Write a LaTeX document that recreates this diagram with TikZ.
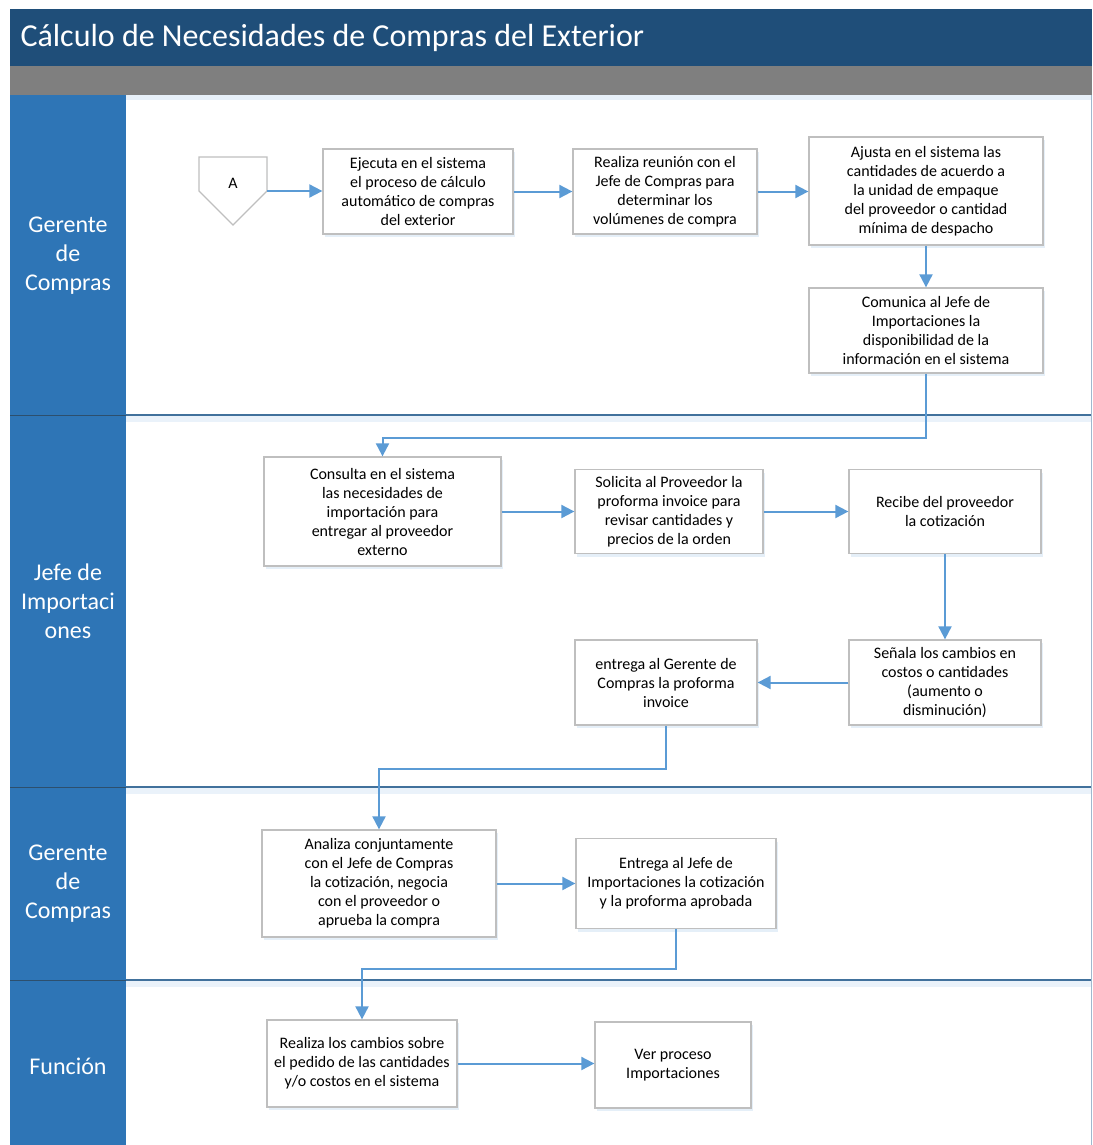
\documentclass[tikz,border=0pt]{standalone}
\usepackage{fontspec}
\setmainfont{Carlito}
\usetikzlibrary{arrows.meta,shadows,calc}
\definecolor{titleblue}{HTML}{1F4E79}
\definecolor{lanehead}{HTML}{2E75B6}
\definecolor{laneline}{HTML}{41719C}
\definecolor{arrowblue}{HTML}{5B9BD5}
\definecolor{boxborder}{HTML}{BFBFBF}
\definecolor{greybar}{HTML}{7F7F7F}
\begin{document}
\begin{tikzpicture}[x=1pt,y=-1pt,
 box/.style={draw=boxborder, line width=1.3pt, fill=white, align=center,
   font=\fontsize{16}{19}\selectfont, inner sep=2pt,
   drop shadow={shadow xshift=2pt, shadow yshift=-3pt, fill=arrowblue!45, opacity=0.35}},
 flow/.style={draw=arrowblue, line width=2pt, -{Triangle[length=13pt,width=13pt]}},
 lanelabel/.style={text=white, align=center, font=\fontsize{24}{29}\selectfont},
 laneedge/.style={draw=laneline, line width=2pt},
]
\useasboundingbox (0,0) rectangle (1092,1145);
\fill[white] (0,0) rectangle (1092,1145);
% title bar
\fill[titleblue] (10,9) rectangle (1092,66);
\node[anchor=west, text=white, font=\fontsize{32}{36}\selectfont] (title) at (17,38) {Cálculo de Necesidades de Compras del Exterior};
\fill[greybar] (10,66) rectangle (1092,95);
\fill[arrowblue!15] (126,95) rectangle (1092,100);
% lane header column
\fill[lanehead] (10,95) rectangle (126,1145);
\draw[laneline!70!black, line width=0.8pt] (10,415) -- (126,415) (10,787) -- (126,787) (10,980) -- (126,980);
% lane separators
\foreach \yy in {415,787,980} {
  \fill[arrowblue!13] (126,\yy+1) rectangle (1092,\yy+7);
  \draw[laneedge] (126,\yy) -- (1092,\yy);
}
\draw[laneline!50, line width=0.8pt] (1091,95) -- (1091,1145);
% lane labels
\node[lanelabel] (l1) at (68,256) {Gerente\\de\\Compras};
\node[lanelabel] (l2) at (68,601) {Jefe de\\Importaci\\ones};
\node[lanelabel] (l3) at (68,884) {Gerente\\de\\Compras};
\node[lanelabel] (l4) at (68,1066) {Función};
% off-page connector A
\coordinate (ac) at (233,191);
\fill[arrowblue!45, opacity=0.35, xshift=2pt, yshift=-3pt] ($(ac)+(-34,-34)$) -- ($(ac)+(34,-34)$) -- ($(ac)+(34,0)$) -- ($(ac)+(0,34)$) -- ($(ac)+(-34,0)$) -- cycle;
\draw[draw=boxborder, line width=1.3pt, fill=white] ($(ac)+(-34,-34)$) -- ($(ac)+(34,-34)$) -- ($(ac)+(34,0)$) -- ($(ac)+(0,34)$) -- ($(ac)+(-34,0)$) -- cycle;
\node[minimum width=68pt, minimum height=68pt, inner sep=0pt, font=\fontsize{16}{19}\selectfont] (a) at (ac) {\raisebox{15pt}{A}};
% process boxes
\node[box, minimum width=190pt, minimum height=85pt] (b1) at (418,191.5) {Ejecuta en el sistema\\el proceso de cálculo\\automático de compras\\del exterior};
\node[box, minimum width=184pt, minimum height=85pt] (b2) at (665,191.5) {Realiza reunión con el\\Jefe de Compras para\\determinar los\\volúmenes de compra};
\node[box, minimum width=234pt, minimum height=108pt] (b3) at (926,191) {Ajusta en el sistema las\\cantidades de acuerdo a\\la unidad de empaque\\del proveedor o cantidad\\mínima de despacho};
\node[box, minimum width=234pt, minimum height=85pt] (b4) at (926,330.5) {Comunica al Jefe de\\Importaciones la\\disponibilidad de la\\información en el sistema};
\node[box, minimum width=237pt, minimum height=109pt] (b5) at (382.5,511.5) {Consulta en el sistema\\las necesidades de\\importación para\\entregar al proveedor\\externo};
\node[box, minimum width=188pt, minimum height=84pt] (b6) at (669,511.5) {Solicita al Proveedor la\\proforma invoice para\\revisar cantidades y\\precios de la orden};
\node[box, minimum width=192pt, minimum height=84pt] (b7) at (945,511.5) {Recibe del proveedor\\la cotización};
\node[box, minimum width=192pt, minimum height=85pt] (b8) at (945,682.5) {Señala los cambios en\\costos o cantidades\\(aumento o\\disminución)};
\node[box, minimum width=182pt, minimum height=85pt] (b9) at (666,682.5) {entrega al Gerente de\\Compras la proforma\\invoice};
\node[box, minimum width=234pt, minimum height=107pt] (b10) at (379,883.5) {Analiza conjuntamente\\con el Jefe de Compras\\la cotización, negocia\\con el proveedor o\\aprueba la compra};
\node[box, minimum width=200pt, minimum height=90pt] (b11) at (676,883.5) {Entrega al Jefe de\\Importaciones la cotización\\y la proforma aprobada};
\node[box, minimum width=190pt, minimum height=87pt] (b12) at (362,1063.5) {Realiza los cambios sobre\\el pedido de las cantidades\\y/o costos en el sistema};
\node[box, minimum width=156pt, minimum height=86pt] (b13) at (673,1065) {Ver proceso\\Importaciones};
% connectors
\draw[flow] (a.east) -- (a.east -| b1.west);
\draw[flow] (b1.east) -- (b2.west);
\draw[flow] (b2.east) -- (b2.east -| b3.west);
\draw[flow] (b3.south) -- (b4.north);
\draw[flow] (b4.south) -- ++(0,64) -| (b5.north);
\draw[flow] (b5.east |- b6.west) -- (b6.west);
\draw[flow] (b6.east) -- (b7.west);
\draw[flow] (b7.south) -- (b8.north);
\draw[flow] (b8.west) -- (b9.east);
\draw[flow] (b9.south) -- ++(0,43) -| (b10.north);
\draw[flow] (b10.east |- b11.west) -- (b11.west);
\draw[flow] (b11.south) -- ++(0,40) -| (b12.north);
\draw[flow] (b12.east) -- (b12.east -| b13.west);
\end{tikzpicture}
\end{document}
